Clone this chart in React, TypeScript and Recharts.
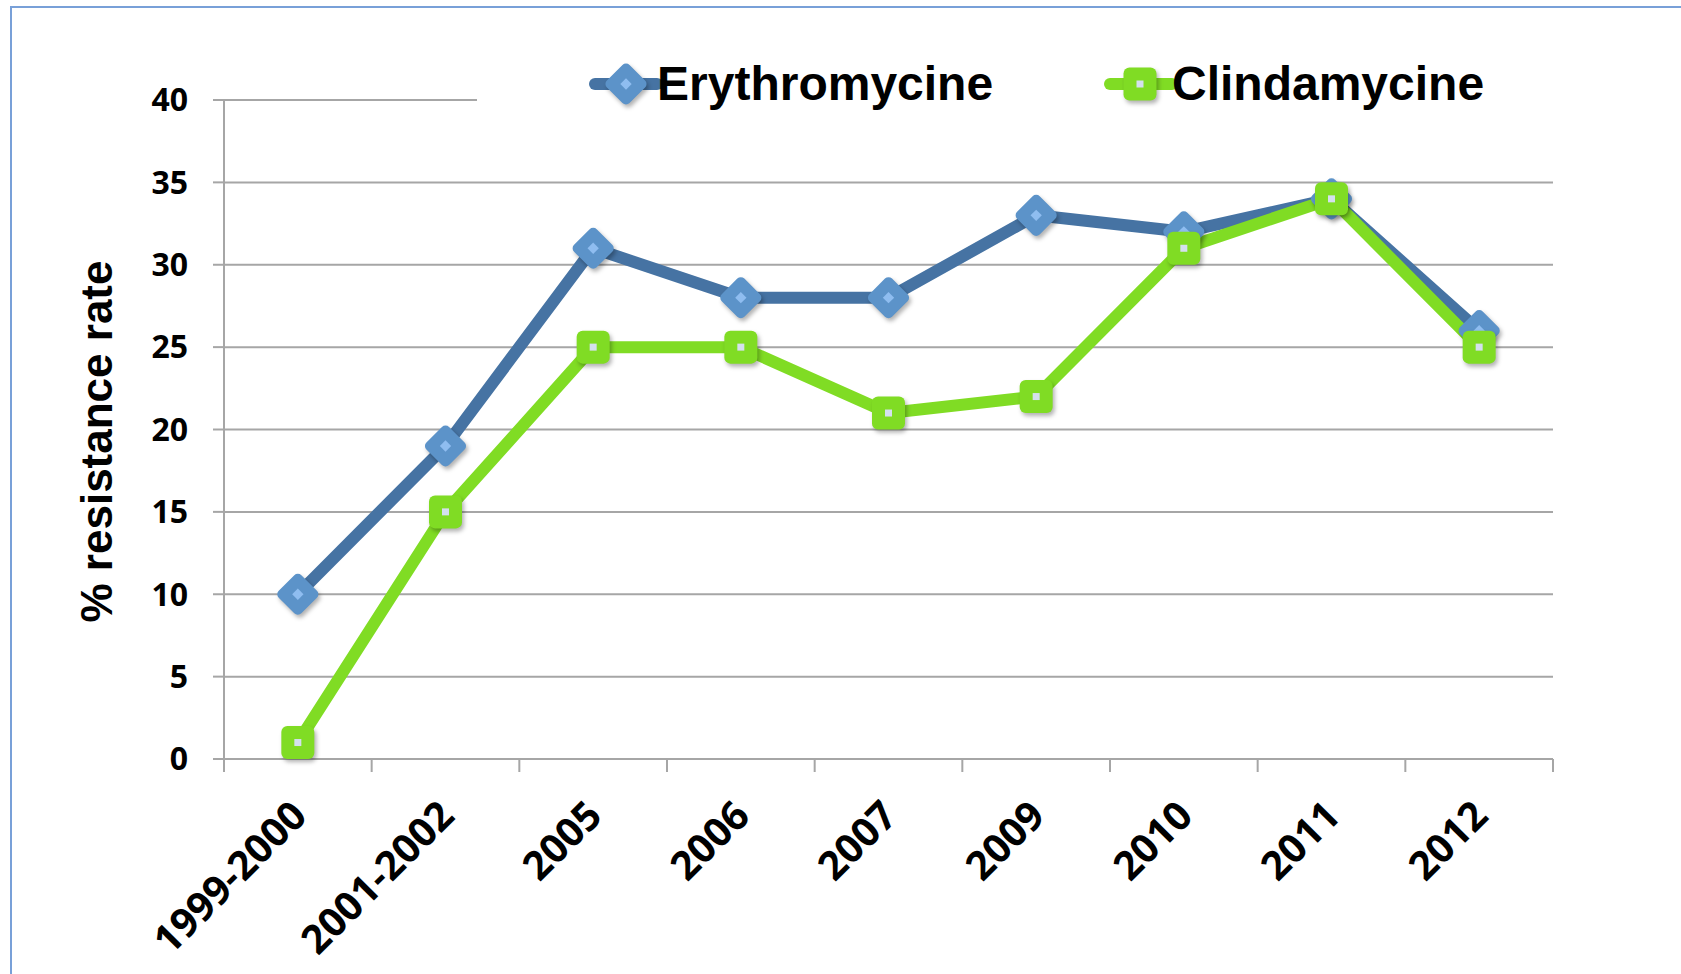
import { LineChart, Line, XAxis, YAxis, CartesianGrid, Legend } from "recharts";

const years = ["1999-2000", "2001-2002", "2005", "2006", "2007", "2009", "2010", "2011", "2012"];
const erythromycine = [10, 19, 31, 28, 28, 33, 32, 34, 26];
const clindamycine = [1, 15, 25, 25, 21, 22, 31, 34, 25];
const yTicks = [0, 5, 10, 15, 20, 25, 30, 35, 40];

const data = years.map((year, i) => ({
  pos: i + 0.5,
  year,
  erythromycine: erythromycine[i],
  clindamycine: clindamycine[i],
}));
const boundaryTicks = years.map((_, i) => i).concat(years.length);
const labelTicks = data.map((d) => d.pos);

const BLUE_LINE = "#4673a3";
const BLUE_MARK = "#5c93c9";
const BLUE_INNER = "#8fbdf0";
const GREEN = "#80dc24";
const GREEN_INNER = "#d4e0ee";
const GRID = "#a6a6a6";
const SHADOW = "drop-shadow(2px 3px 2px rgba(0,0,0,0.3))";
const TICK_FONT = '"Open Sans", sans-serif';
const LABEL_FONT = '"Liberation Sans", Arial, sans-serif';

function Diamond({ cx, cy }: { cx: number; cy: number }) {
  return (
    <g style={{ filter: SHADOW }}>
      <g transform={`translate(${cx},${cy}) rotate(45)`}>
        <rect x={-16} y={-16} width={32} height={32} rx={5} fill={BLUE_MARK} />
        <rect x={-4} y={-4} width={8} height={8} fill={BLUE_INNER} />
      </g>
    </g>
  );
}

function Square({ cx, cy }: { cx: number; cy: number }) {
  return (
    <g style={{ filter: SHADOW }}>
      <rect x={cx - 16.5} y={cy - 16.5} width={33} height={33} rx={6} fill={GREEN} />
      <rect x={cx - 3.5} y={cy - 3.5} width={7} height={7} fill={GREEN_INNER} />
    </g>
  );
}

function XTick({ x, y, payload }: any) {
  const label = years[Math.floor(payload.value)];
  const ax = x + 11;
  const ay = y + 50;
  return (
    <text
      x={ax}
      y={ay}
      transform={`rotate(-45 ${ax} ${ay})`}
      textAnchor="end"
      fill="#000"
      fontSize={40}
      fontWeight={700}
      fontFamily={TICK_FONT}
    >
      {label}
    </text>
  );
}

function YLabel({ viewBox }: any) {
  const x = viewBox.x + 112;
  const y = viewBox.y + viewBox.height / 2 + 12;
  return (
    <text
      x={x}
      y={y}
      transform={`rotate(-90 ${x} ${y})`}
      textAnchor="middle"
      fill="#000"
      fontSize={44}
      fontWeight={700}
      fontFamily={LABEL_FONT}
    >
      % resistance rate
    </text>
  );
}

function renderLegend() {
  return (
    <svg width={1100} height={66} style={{ display: "block" }}>
      <g>
        <line x1={118} x2={180} y1={32} y2={32} stroke={BLUE_LINE} strokeWidth={12} strokeLinecap="round" />
        <Diamond cx={149} cy={32} />
        <text x={180} y={48} fontSize={48} fontWeight={700} fontFamily={LABEL_FONT} fill="#000">
          Erythromycine
        </text>
      </g>
      <g>
        <line x1={633} x2={695} y1={32} y2={32} stroke={GREEN} strokeWidth={12} strokeLinecap="round" />
        <Square cx={663} cy={32} />
        <text x={695} y={48} fontSize={48} fontWeight={700} fontFamily={LABEL_FONT} fill="#000">
          Clindamycine
        </text>
      </g>
    </svg>
  );
}

export default function App() {
  return (
    <div
      style={{
        position: "absolute",
        left: 0,
        top: 0,
        width: 1681,
        height: 974,
        overflow: "hidden",
        background: "#fff",
      }}
    >
      <div
        style={{
          position: "absolute",
          left: 10,
          top: 6,
          width: 1800,
          height: 1100,
          border: "2px solid #78a0d8",
        }}
      />
      <div style={{ position: "absolute", left: 0, top: 0 }}>
        <LineChart
          width={1681}
          height={974}
          data={data}
          margin={{ top: 100, right: 128, bottom: 213, left: 0 }}
        >
          <CartesianGrid xAxisId="grid" vertical={false} stroke={GRID} strokeWidth={2} />
          <XAxis
            xAxisId="grid"
            type="number"
            dataKey="pos"
            domain={[0, 9]}
            ticks={boundaryTicks}
            interval={0}
            height={1}
            tickSize={13}
            tickFormatter={() => ""}
            axisLine={{ stroke: GRID, strokeWidth: 2 }}
            tickLine={{ stroke: GRID, strokeWidth: 2 }}
          />
          <XAxis
            xAxisId="lab"
            type="number"
            dataKey="pos"
            domain={[0, 9]}
            ticks={labelTicks}
            interval={0}
            height={1}
            axisLine={false}
            tickLine={false}
            tick={<XTick />}
          />
          <YAxis
            domain={[0, 40]}
            ticks={yTicks}
            interval={0}
            width={224}
            tickSize={11}
            tickMargin={25}
            axisLine={{ stroke: GRID, strokeWidth: 2 }}
            tickLine={{ stroke: GRID, strokeWidth: 2 }}
            tick={{ fill: "#000", fontSize: 32, fontWeight: 700, fontFamily: TICK_FONT }}
            label={<YLabel />}
          />
          <Legend
            layout="horizontal"
            verticalAlign="middle"
            align="center"
            wrapperStyle={{ top: 52, left: 477, width: 1100, height: 66, background: "#fff" }}
            content={renderLegend}
          />
          <Line
            xAxisId="lab"
            dataKey="erythromycine"
            name="Erythromycine"
            stroke={BLUE_LINE}
            strokeWidth={12}
            strokeLinejoin="round"
            isAnimationActive={false}
            activeDot={false}
            dot={(p: any) => <Diamond key={`e${p.index}`} cx={p.cx} cy={p.cy} />}
          />
          <Line
            xAxisId="lab"
            dataKey="clindamycine"
            name="Clindamycine"
            stroke={GREEN}
            strokeWidth={12}
            strokeLinejoin="round"
            isAnimationActive={false}
            activeDot={false}
            dot={(p: any) => <Square key={`c${p.index}`} cx={p.cx} cy={p.cy} />}
          />
        </LineChart>
      </div>
    </div>
  );
}
